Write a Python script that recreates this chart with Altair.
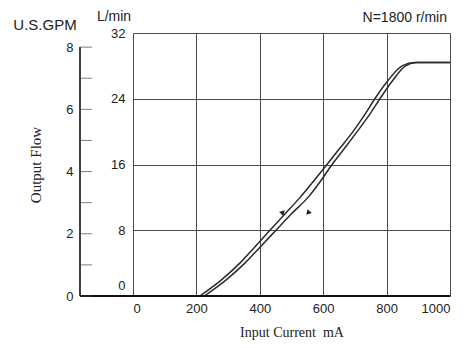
import altair as alt
import pandas as pd

# Rising (left) curve and falling (right) curve: input current mA vs output flow L/min
up_ma = [211, 280, 337, 385, 432, 480, 527, 570, 612, 653, 694, 730, 763, 800, 849, 890, 1000]
up_lpm = [0, 2, 4, 6, 8, 10, 12, 14, 16, 18, 20, 22, 24, 26, 28, 28.4, 28.4]
dn_ma = [225, 295, 353, 402, 451, 500, 552, 592, 628, 668, 707, 745, 779, 815, 860, 895, 1000]
dn_lpm = [0, 2, 4, 6, 8, 10, 12, 14, 16, 18, 20, 22, 24, 26, 28, 28.4, 28.4]

arrow_ma = [473, 552]
arrow_lpm = [10.2, 10.1]
arrow_angle = [42, 222]

x_ticks = list(range(0, 1001, 100))
y_ticks = list(range(0, 33, 4))
gpm_ticks = [0, 1, 2, 3, 4, 5, 6, 7, 8]
gpm_labels = [0, 2, 4, 6, 8]
gpm_max = 32 / 3.78541

W, H = 317, 263
SANS = "Liberation Sans"
SERIF = "Liberation Serif"
TXT = "#222222"
GRID = "#4a4a4a"

curves = pd.DataFrame({
    "ma": up_ma + dn_ma,
    "lpm": up_lpm + dn_lpm,
    "curve": ["up"] * len(up_ma) + ["down"] * len(dn_ma),
    "order": list(range(len(up_ma))) + list(range(len(dn_ma))),
})
arrows = pd.DataFrame({"ma": arrow_ma, "lpm": arrow_lpm, "angle": arrow_angle})

xs = alt.Scale(domain=[0, 1000], nice=False, zero=False)
ys = alt.Scale(domain=[0, 32], nice=False)

x_axis = alt.Axis(
    values=x_ticks, format="d",
    labelExpr="datum.value % 200 == 0 ? datum.label : ''",
    grid=True, gridColor=GRID, gridWidth=1, gridOpacity=1,
    ticks=False, domain=False,
    labelFont=SANS, labelFontSize=13, labelColor=TXT, labelPadding=6,
    title="Input Current\u00a0\u00a0mA", titleFont=SERIF, titleFontSize=14,
    titleFontWeight="normal", titleColor=TXT, titlePadding=10,
)
y_axis = alt.Axis(
    values=y_ticks,
    labelExpr="datum.value % 8 == 0 ? datum.label : ''",
    grid=True, gridColor=GRID, gridWidth=1, gridOpacity=1,
    ticks=False, domain=False,
    labelFont=SANS, labelFontSize=13, labelColor=TXT, labelPadding=8,
    labelOffset={"condition": {"test": "datum.value == 0", "value": -11}, "value": 0},
    title=None,
)

lines = alt.Chart(curves).mark_line(
    color="#2a2a2a", strokeWidth=1.5, interpolate="monotone"
).encode(
    x=alt.X("ma:Q", scale=xs, axis=x_axis),
    y=alt.Y("lpm:Q", scale=ys, axis=y_axis),
    detail="curve:N",
    order="order:Q",
)

arrow_marks = alt.Chart(arrows).mark_point(
    shape="triangle-up", filled=True, color="#222222", size=34, opacity=1
).encode(
    x=alt.X("ma:Q", scale=xs),
    y=alt.Y("lpm:Q", scale=ys),
    angle=alt.Angle("angle:Q", scale=None),
)

base_rule = alt.Chart(pd.DataFrame({"a": [0]})).mark_rule(
    color="#111111", strokeWidth=2
).encode(x=alt.value(-53), x2=alt.value(W), y=alt.value(H))

def label(text, x, y, align, size, font=SANS):
    return alt.Chart(pd.DataFrame({"t": [text]})).mark_text(
        align=align, baseline="middle", font=font, fontSize=size, color=TXT
    ).encode(text="t:N", x=alt.value(x), y=alt.value(y))

texts = [
    label("U.S.GPM", -88, -8, "center", 15),
    label("L/min", -19, -16, "center", 14),
    label("N=1800 r/min", 314, -15, "right", 14),
]

main = alt.layer(lines, arrow_marks, base_rule, *texts)

gpm_axis = alt.Axis(
    orient="left", offset=53, values=gpm_labels,
    ticks=False, domain=False, grid=False,
    labelFont=SANS, labelFontSize=13, labelColor=TXT, labelPadding=7,
    title="Output Flow", titleFont=SERIF, titleFontSize=15,
    titleFontWeight="normal", titleColor=TXT, titlePadding=22,
)
gs = alt.Scale(domain=[0, gpm_max], nice=False)

gpm_tick_df = pd.DataFrame({"g": gpm_ticks})
gpm_tick = alt.Chart(gpm_tick_df).mark_tick(
    orient="horizontal", color="#444444", size=12, thickness=1
).encode(
    y=alt.Y("g:Q", scale=gs, axis=gpm_axis),
    x=alt.value(-47),
)
gpm_line = alt.Chart(pd.DataFrame({"g": [0], "g2": [8]})).mark_rule(
    color="#111111", strokeWidth=1.6
).encode(
    y=alt.Y("g:Q", scale=gs, axis=gpm_axis),
    y2="g2:Q",
    x=alt.value(-53),
)
gpm = alt.layer(gpm_line, gpm_tick)

chart = alt.layer(main, gpm).resolve_scale(y="independent").properties(
    width=W, height=H,
    autosize=alt.AutoSizeParams(type="none"),
    padding={"left": 125, "top": 25, "right": 10, "bottom": 44},
    background="white",
).configure_view(stroke=None)

chart.save("out.html", embed_options={"renderer": "svg", "actions": False})
